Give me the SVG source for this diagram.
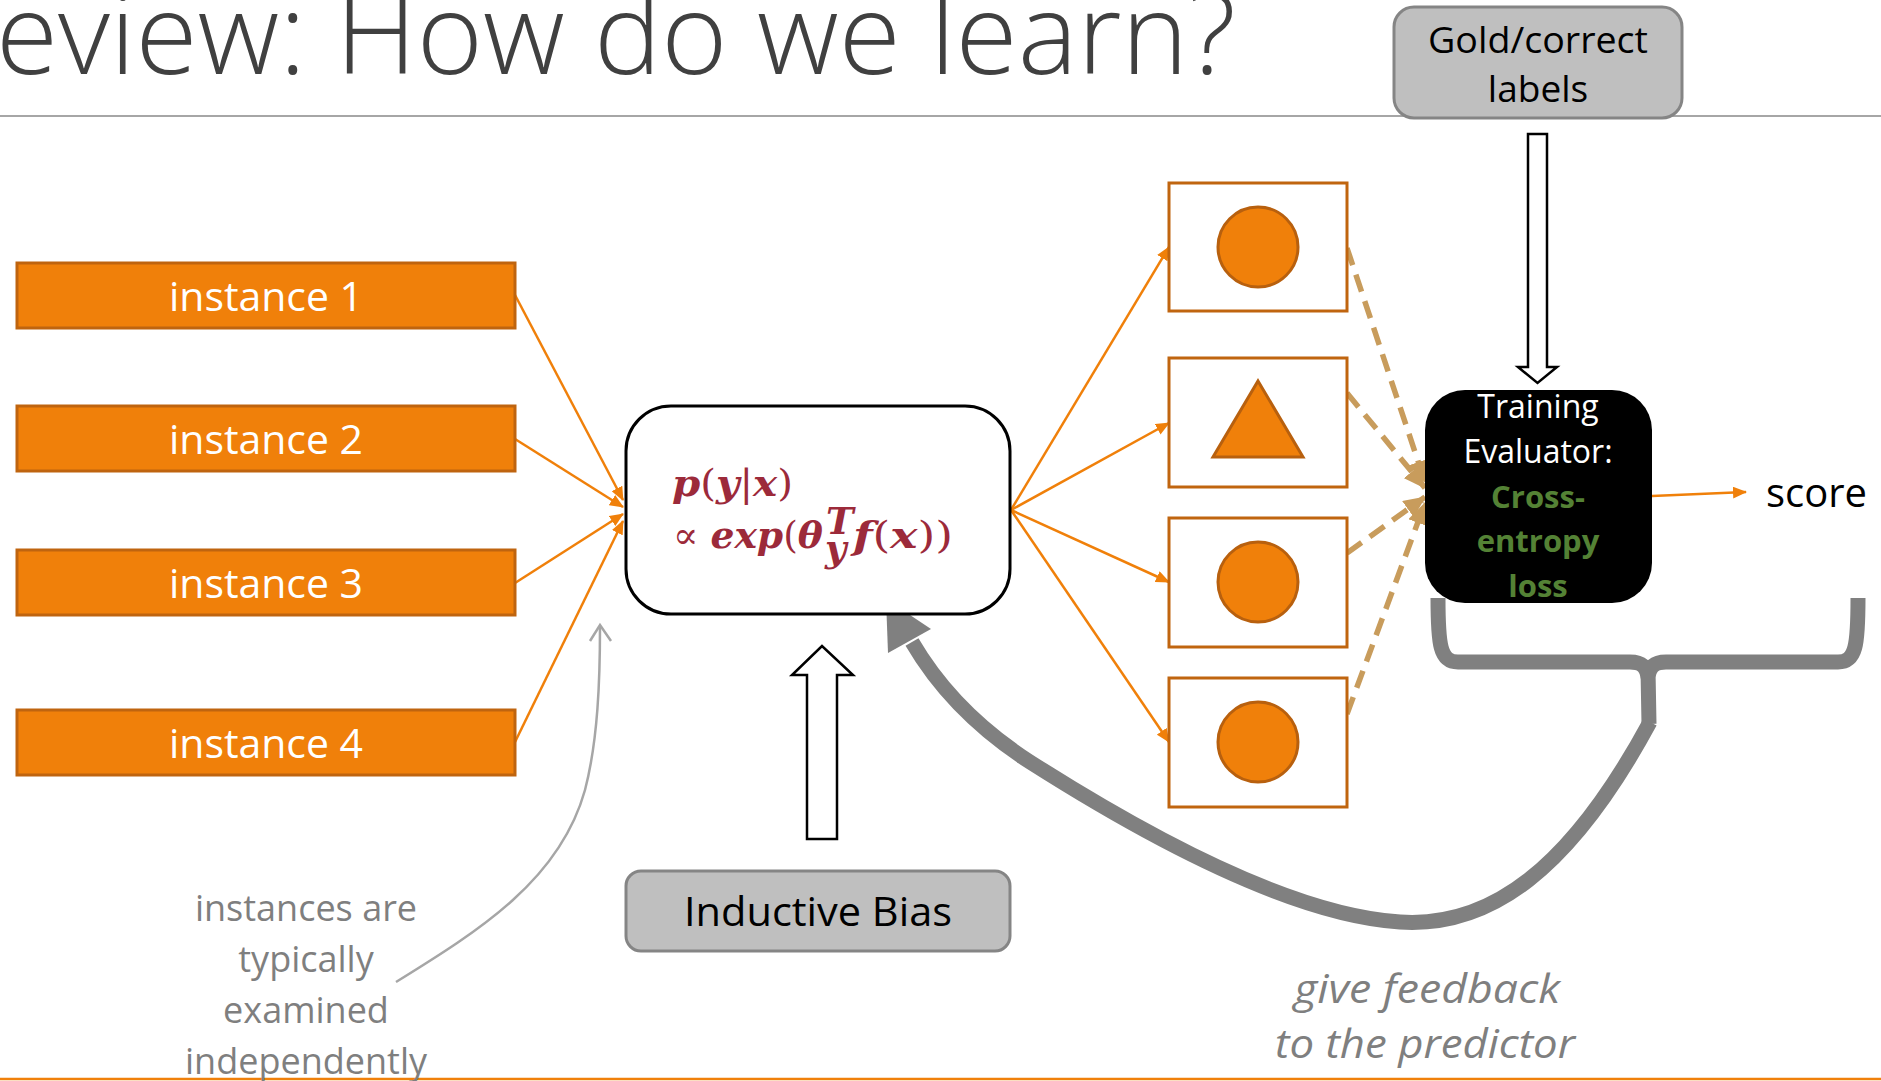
<svg xmlns="http://www.w3.org/2000/svg" width="1881" height="1081" viewBox="0 0 1881 1081">
  <style>
    .sans { font-family: "Open Sans", "Liberation Sans", sans-serif; }
    .inst rect { fill: #F0800A; stroke: #BF640F; stroke-width: 3; }
    .inst text { fill: #ffffff; font-size: 40px; text-anchor: middle; }
    .outbox rect { fill: #ffffff; stroke: #C0650F; stroke-width: 3; }
    .shape { fill: #F0800A; stroke: #B8600E; stroke-width: 3; }
    .grey rect { fill: #BFBFBF; stroke: #858585; stroke-width: 3; }
    .grey text { fill: #000000; text-anchor: middle; }
    .math { font-family: "DejaVu Serif", "Liberation Serif", serif; fill: #9C2A3A; font-size: 37px; }
    .bi { font-style: italic; font-weight: bold; }
    .orange-line { fill: none; stroke: #F0800A; stroke-width: 2.5; }
    .tan { fill: none; stroke: #C89C5C; stroke-width: 5.5; stroke-dasharray: 18 10; }
    .block { fill: #ffffff; stroke: #000000; stroke-width: 2.5; stroke-linejoin: miter; }
    .note { fill: #7F7F7F; text-anchor: middle; }
  </style>
  <defs>
    <marker id="ah-orange" markerUnits="userSpaceOnUse" viewBox="0 0 14 12" refX="13" refY="6" markerWidth="14" markerHeight="12" orient="auto">
      <path d="M0,0 L14,6 L0,12 z" fill="#F0800A"/>
    </marker>
    <marker id="ah-tan" markerUnits="userSpaceOnUse" viewBox="0 0 22 20" refX="21" refY="10" markerWidth="22" markerHeight="20" orient="auto">
      <path d="M0,0 L22,10 L0,20 z" fill="#C89C5C"/>
    </marker>
  </defs>

  <rect x="0" y="0" width="1881" height="1081" fill="#ffffff"/>

  <!-- slide title and rules -->
  <text class="sans" x="-4" y="74" font-size="113" font-weight="300" fill="#404040">eview: How do we learn?</text>
  <line x1="0" y1="116" x2="1881" y2="116" stroke="#A6A6A6" stroke-width="2"/>
  <line x1="0" y1="1079" x2="1881" y2="1079" stroke="#F0800A" stroke-width="2.5"/>

  <!-- connectors -->
  <g id="connectors">
    <!-- instances into the predictor -->
    <line class="orange-line" x1="515" y1="295" x2="623" y2="500" marker-end="url(#ah-orange)"/>
    <line class="orange-line" x1="515" y1="439" x2="623" y2="507" marker-end="url(#ah-orange)"/>
    <line class="orange-line" x1="515" y1="583" x2="623" y2="514" marker-end="url(#ah-orange)"/>
    <line class="orange-line" x1="515" y1="742" x2="623" y2="521" marker-end="url(#ah-orange)"/>
    <!-- predictor out to the predicted labels -->
    <line class="orange-line" x1="1011" y1="510" x2="1169" y2="247" marker-end="url(#ah-orange)"/>
    <line class="orange-line" x1="1011" y1="510" x2="1169" y2="423" marker-end="url(#ah-orange)"/>
    <line class="orange-line" x1="1011" y1="510" x2="1169" y2="582" marker-end="url(#ah-orange)"/>
    <line class="orange-line" x1="1011" y1="510" x2="1169" y2="742" marker-end="url(#ah-orange)"/>
    <!-- predictions into the evaluator -->
    <line class="tan" x1="1347" y1="248" x2="1425" y2="482" marker-end="url(#ah-tan)"/>
    <line class="tan" x1="1347" y1="393" x2="1425" y2="488" marker-end="url(#ah-tan)"/>
    <line class="tan" x1="1347" y1="553" x2="1425" y2="497" marker-end="url(#ah-tan)"/>
    <line class="tan" x1="1347" y1="714" x2="1425" y2="503" marker-end="url(#ah-tan)"/>
    <!-- evaluator to score -->
    <line class="orange-line" x1="1652" y1="496" x2="1746" y2="492" marker-end="url(#ah-orange)"/>
    <!-- gold labels block arrow -->
    <path class="block" d="M1528,134 L1547,134 L1547,367 L1557,367 L1537.5,383 L1518,367 L1528,367 Z"/>
    <!-- inductive bias block arrow -->
    <path class="block" d="M807,839 L837,839 L837,675 L853,675 L822,646 L792,675 L807,675 Z"/>
    <!-- annotation arrow -->
    <path d="M396,982 C480,930 560,880 585,790 C598,740 600,680 600,626" fill="none" stroke="#A6A6A6" stroke-width="2.5"/>
    <path d="M590,641 L600,625 L611,641" fill="none" stroke="#A6A6A6" stroke-width="2.5"/>
    <!-- brace over the evaluation and the feedback arrow -->
    <path d="M1438,598 C1438,645 1440,662 1458,662 L1630,662 C1642,662 1647,667 1648,678 M1858,598 C1858,645 1856,662 1838,662 L1666,662 C1654,662 1649,667 1648,678 M1648,670 L1649,724" fill="none" stroke="#808080" stroke-width="15"/>
    <path d="M1650,722 C1570,870 1490,928 1400,922 C1290,915 1140,832 1030,762 C982,731 940,690 912,642" fill="none" stroke="#808080" stroke-width="15"/>
    <polygon points="886,599 888,653 931,629" fill="#808080"/>
  </g>

  <!-- instances -->
  <g id="instance-1" class="inst sans">
    <rect x="17" y="263" width="498" height="65"/>
    <text x="266" y="311" textLength="194" lengthAdjust="spacingAndGlyphs">instance 1</text>
  </g>
  <g id="instance-2" class="inst sans">
    <rect x="17" y="406" width="498" height="65"/>
    <text x="266" y="454" textLength="194" lengthAdjust="spacingAndGlyphs">instance 2</text>
  </g>
  <g id="instance-3" class="inst sans">
    <rect x="17" y="550" width="498" height="65"/>
    <text x="266" y="598" textLength="194" lengthAdjust="spacingAndGlyphs">instance 3</text>
  </g>
  <g id="instance-4" class="inst sans">
    <rect x="17" y="710" width="498" height="65"/>
    <text x="266" y="758" textLength="194" lengthAdjust="spacingAndGlyphs">instance 4</text>
  </g>

  <!-- predictor -->
  <g id="predictor">
    <rect x="626" y="406" width="384" height="208" rx="45" fill="#ffffff" stroke="#000000" stroke-width="3"/>
    <text class="math" x="672" y="496" textLength="121" lengthAdjust="spacingAndGlyphs"><tspan class="bi">p</tspan>(<tspan class="bi">y</tspan>|<tspan class="bi">x</tspan>)</text>
    <text class="math" x="673" y="548" textLength="150" lengthAdjust="spacingAndGlyphs">∝ <tspan class="bi">exp</tspan>(<tspan class="bi">θ</tspan></text>
    <text class="math bi" x="826" y="534" font-size="19">T</text>
    <text class="math bi" x="825" y="561" font-size="19">y</text>
    <text class="math" x="853" y="548" textLength="100" lengthAdjust="spacingAndGlyphs"><tspan class="bi">f</tspan>(<tspan class="bi">x</tspan>))</text>
  </g>

  <!-- inductive bias -->
  <g id="inductive-bias" class="grey sans">
    <rect x="626" y="871" width="384" height="80" rx="15"/>
    <text x="818" y="926" font-size="41" textLength="268" lengthAdjust="spacingAndGlyphs">Inductive Bias</text>
  </g>

  <!-- gold labels -->
  <g id="gold-labels" class="grey sans">
    <rect x="1394" y="7" width="288" height="111" rx="20"/>
    <text x="1538" y="53" font-size="37" textLength="220" lengthAdjust="spacingAndGlyphs">Gold/correct</text>
    <text x="1538" y="102" font-size="37">labels</text>
  </g>

  <!-- predicted labels -->
  <g id="prediction-1" class="outbox">
    <rect x="1169" y="183" width="178" height="128"/>
    <circle class="shape" cx="1258" cy="247" r="40"/>
  </g>
  <g id="prediction-2" class="outbox">
    <rect x="1169" y="358" width="178" height="129"/>
    <polygon class="shape" points="1258,381 1303,457 1213,457"/>
  </g>
  <g id="prediction-3" class="outbox">
    <rect x="1169" y="518" width="178" height="129"/>
    <circle class="shape" cx="1258" cy="582" r="40"/>
  </g>
  <g id="prediction-4" class="outbox">
    <rect x="1169" y="678" width="178" height="129"/>
    <circle class="shape" cx="1258" cy="742" r="40"/>
  </g>

  <!-- training evaluator -->
  <g id="evaluator" class="sans">
    <rect x="1425" y="390" width="227" height="213" rx="40" fill="#000000"/>
    <text x="1538" y="418" font-size="32" fill="#ffffff" text-anchor="middle">Training</text>
    <text x="1538" y="463" font-size="32" fill="#ffffff" text-anchor="middle">Evaluator:</text>
    <text x="1538" y="508" font-size="31" font-weight="bold" fill="#548235" text-anchor="middle">Cross-</text>
    <text x="1538" y="552" font-size="31" font-weight="bold" fill="#548235" text-anchor="middle">entropy</text>
    <text x="1538" y="597" font-size="31" font-weight="bold" fill="#548235" text-anchor="middle">loss</text>
  </g>

  <!-- score -->
  <g id="score" class="sans">
    <text x="1766" y="507" font-size="40" fill="#000000" textLength="101" lengthAdjust="spacingAndGlyphs">score</text>
  </g>

  <!-- annotations -->
  <g id="note-independent" class="sans note" font-size="36">
    <text x="306" y="921">instances are</text>
    <text x="306" y="972">typically</text>
    <text x="306" y="1023">examined</text>
    <text x="306" y="1074">independently</text>
  </g>
  <g id="note-feedback" class="sans note" font-size="40" font-style="italic">
    <text x="1427" y="1003" textLength="266" lengthAdjust="spacingAndGlyphs">give feedback</text>
    <text x="1425" y="1058" textLength="300" lengthAdjust="spacingAndGlyphs">to the predictor</text>
  </g>
</svg>
